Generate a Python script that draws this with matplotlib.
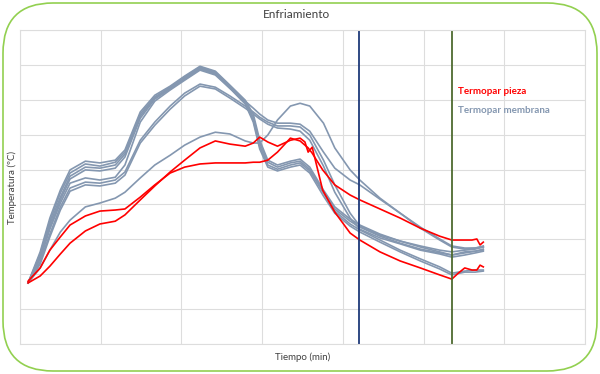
import numpy as np
import matplotlib
matplotlib.use("Agg")
import matplotlib.pyplot as plt
from matplotlib.patches import FancyBboxPatch
from matplotlib.transforms import IdentityTransform

plt.rcParams['font.family'] = ['Lato', 'DejaVu Sans']

# time axis (min) shared by the membrane thermocouples
t_membrana = [1.0, 2.5, 3.7, 5.0, 6.2, 8.1, 9.9, 11.8, 13.0, 14.9, 16.7, 18.6, 20.4, 22.3,
              24.2, 26.0, 27.9, 28.9, 29.7, 30.7, 31.9, 33.5, 34.7, 35.9, 37.6, 39.0,
              40.9, 42.1, 44.6, 47.1, 49.6, 52.0, 53.5, 55.1, 56.4, 57.4]

membrana_1 = [17.5, 26.4, 36.1, 44.1, 49.9, 52.4, 51.9, 52.7, 55.6, 66.5, 71.3, 73.9, 76.8, 79.6,
              78.2, 74.2, 69.9, 65.9, 58.4, 52.7, 51.3, 52.4, 53.0, 50.7, 44.1, 39.3,
              35.8, 34.1, 31.5, 29.5, 28.1, 26.9, 26.4, 26.9, 27.2, 27.8]
membrana_2 = [17.5, 25.8, 35.2, 43.3, 49.0, 51.6, 51.0, 52.1, 55.0, 65.9, 70.8, 73.6, 76.5, 79.4,
              77.9, 73.9, 69.3, 65.0, 57.6, 52.1, 50.7, 51.9, 52.4, 50.1, 43.5, 38.7,
              35.2, 33.5, 30.9, 28.9, 27.2, 26.1, 25.5, 26.4, 26.6, 27.2]
membrana_3 = [17.5, 25.2, 34.4, 42.1, 48.1, 50.7, 50.4, 51.3, 54.4, 65.3, 70.5, 73.3, 76.2, 79.1,
              77.6, 73.6, 69.0, 64.2, 56.7, 51.3, 50.1, 51.3, 51.9, 49.6, 43.3, 38.1,
              34.4, 32.7, 29.8, 26.9, 24.4, 22.1, 20.3, 20.9, 21.2, 21.2]
membrana_4 = [17.5, 24.6, 33.5, 41.3, 47.3, 49.9, 49.6, 50.4, 53.6, 64.7, 70.2, 73.1, 75.9, 78.8,
              77.4, 73.3, 68.8, 63.6, 55.9, 50.7, 49.6, 50.7, 51.3, 49.0, 42.4, 37.5,
              33.8, 32.1, 29.2, 26.4, 23.8, 21.5, 19.8, 20.6, 20.6, 20.9]
membrana_5 = [17.5, 24.4, 32.9, 40.4, 46.1, 47.6, 47.0, 47.8, 51.3, 63.6, 69.6, 72.8, 75.6, 78.5,
              77.1, 73.3, 69.6, 67.6, 65.9, 64.2, 63.3, 63.3, 63.0, 61.0, 55.0, 50.4,
              47.0, 45.6, 41.5, 37.5, 33.5, 30.1, 28.1, 27.5, 27.5, 28.1]
membrana_6 = [17.5, 23.5, 31.5, 39.3, 44.7, 46.4, 46.1, 47.0, 49.3, 58.4, 63.6, 68.2, 71.9, 74.5,
              73.6, 71.1, 68.2, 66.5, 65.0, 63.6, 62.5, 62.5, 62.2, 59.9, 52.7, 45.6,
              37.5, 33.8, 31.2, 29.5, 27.8, 26.4, 25.5, 26.1, 26.6, 26.9]
membrana_7 = [17.5, 22.9, 30.7, 38.4, 43.8, 45.6, 45.3, 46.1, 48.4, 57.6, 62.7, 67.3, 71.1, 73.9,
              73.1, 70.5, 67.6, 65.9, 64.5, 63.0, 61.9, 61.6, 61.0, 58.4, 51.0, 43.5,
              36.1, 32.9, 30.4, 28.7, 26.9, 25.8, 24.9, 25.5, 26.1, 26.6]
membrana_8 = [17.5, 21.8, 26.9, 32.1, 35.5, 39.3, 40.4, 41.8, 43.5, 47.6, 51.3, 54.1, 57.0, 59.3,
              60.7, 60.2, 58.2, 57.6, 57.6, 59.9, 64.2, 68.2, 69.0, 68.2, 63.3, 56.2,
              49.9, 47.0, 41.8, 37.5, 33.2, 29.8, 27.8, 27.2, 27.5, 27.8]

# piece thermocouples
t_pieza = [1.0, 2.5, 3.7, 5.0, 6.2, 8.1, 9.9, 11.8, 13.0, 14.9, 16.7, 18.6, 20.4, 22.3, 24.2,
           26.0, 27.9, 28.9, 29.7, 30.7, 31.9, 33.5, 34.7, 35.3, 35.7, 36.2, 37.5, 39.0,
           40.9, 42.1, 44.6, 47.1, 49.6, 52.0, 53.5, 54.3, 55.1, 56.0, 56.6, 57.0, 57.4]
pieza_1 = [18.0, 21.8, 26.9, 30.7, 34.1, 36.7, 38.1, 38.4, 38.7, 42.1, 45.6, 49.0, 50.7, 51.6, 51.9,
           51.9, 51.9, 52.1, 52.1, 52.7, 55.0, 59.0, 58.2, 57.0, 56.2, 54.7, 49.9, 45.6,
           42.7, 41.3, 38.7, 36.1, 33.2, 30.9, 29.8, 29.8, 29.8, 29.8, 30.1, 28.4, 29.2]
pieza_2 = [17.5, 19.5, 22.3, 25.8, 28.9, 32.4, 34.4, 35.2, 37.0, 41.3, 45.3, 49.3, 52.7, 56.2, 58.2,
           57.3, 56.7, 57.6, 59.3, 57.9, 56.7, 58.4, 59.0, 57.9, 55.0, 56.4, 44.1, 37.8,
           31.8, 29.8, 26.4, 23.8, 21.8, 19.8, 18.6, 20.3, 21.8, 21.2, 21.2, 22.6, 22.1]

# process markers (min)
t_marca_1 = 42.0
t_marca_2 = 53.5

gris = '#8497B0'
rojo = '#FF0000'

fig = plt.figure(figsize=(6, 3.74), dpi=100)
ax = fig.add_axes([20 / 600, 30 / 374, 565 / 600, 314 / 374])

for serie in [membrana_1, membrana_2, membrana_3, membrana_4,
              membrana_5, membrana_6, membrana_7, membrana_8]:
    ax.plot(t_membrana, serie, color=gris, lw=1.2, solid_joinstyle='round')
for serie in [pieza_1, pieza_2]:
    ax.plot(t_pieza, serie, color=rojo, lw=1.2, solid_joinstyle='round')

ax.axvline(t_marca_1, color='#1F3A7A', lw=1.3)
ax.axvline(t_marca_2, color='#4E6B30', lw=1.3)

ax.set_xlim(0, 70)
ax.set_ylim(0, 90)
ax.set_xticks(np.arange(0, 71, 10))
ax.set_yticks(np.arange(0, 91, 10))
ax.tick_params(length=0, labelbottom=False, labelleft=False)
ax.grid(True, color='#DDDDDD', lw=0.8)
ax.set_axisbelow(True)
for s in ax.spines.values():
    s.set_color('#DDDDDD')
    s.set_linewidth(0.8)

ax.set_xlabel('Tiempo (min)', fontsize=7, color='#404040', labelpad=6)
ax.set_ylabel('Temperatura (ºC)', fontsize=7, color='#404040', labelpad=2)
fig.text(0.495, 1 - 14 / 374, 'Enfriamiento', ha='center', va='center', fontsize=8.5, color='#404040')

# legend written as coloured text, like the original
ax.text(54.3, 72.5, 'Termopar pieza', color=rojo, fontsize=7, fontweight='bold', va='center')
ax.text(54.3, 67.0, 'Termopar membrana', color=gris, fontsize=7, fontweight='bold', va='center')

# rounded green frame around the whole chart
marco = FancyBboxPatch((3, 3), 594, 368, boxstyle='round,pad=0,rounding_size=50',
                       transform=IdentityTransform(), fill=False, ec='#92D050', lw=1.2)
fig.patches.append(marco)

plt.savefig('out.png', dpi=100)
plt.close()
